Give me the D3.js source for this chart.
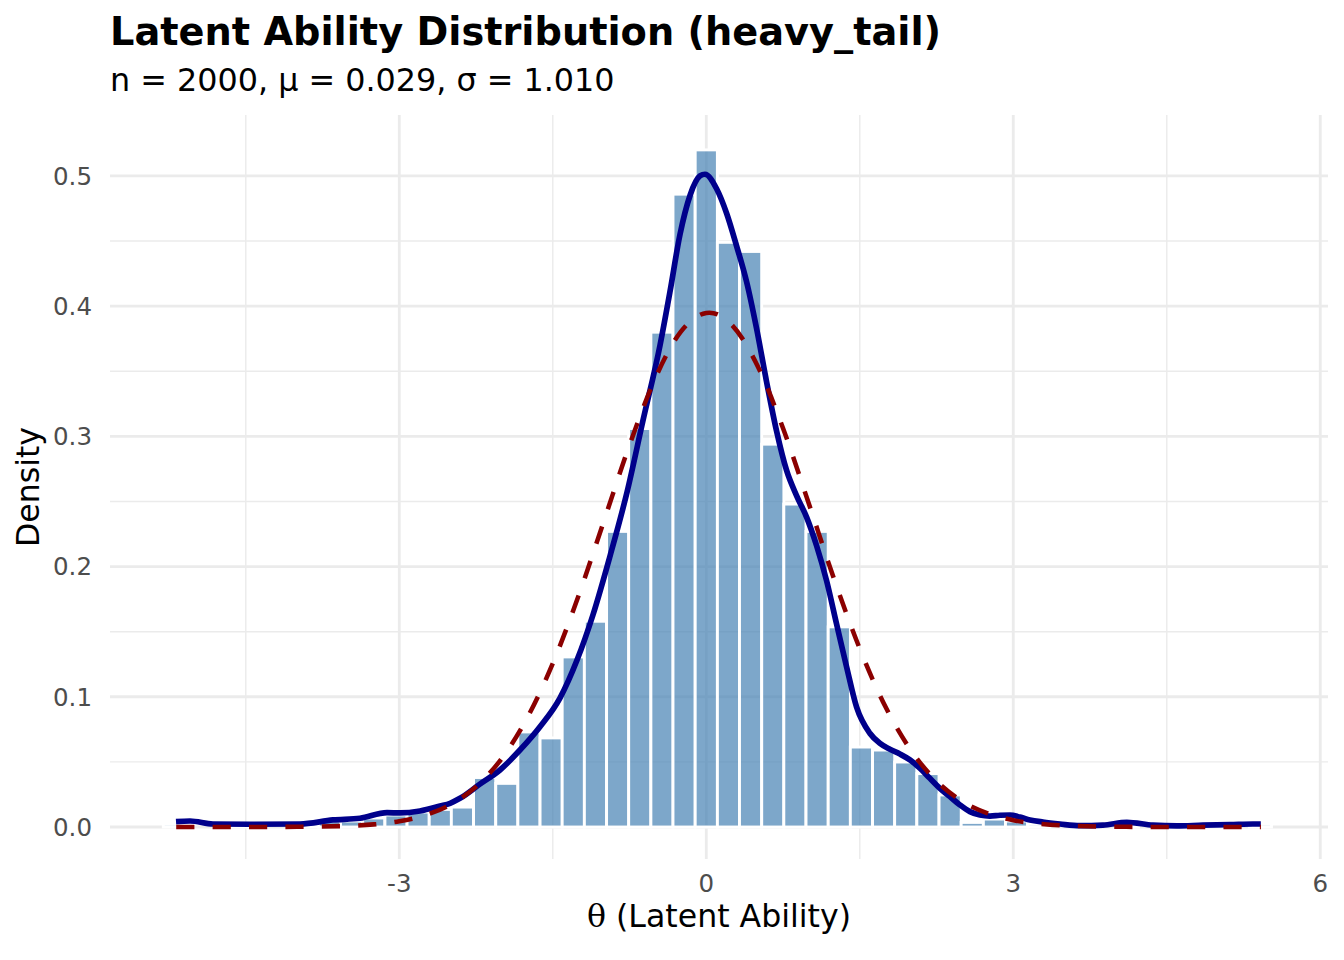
<!DOCTYPE html>
<html><head><meta charset="utf-8">
<script src="https://cdn.jsdelivr.net/npm/d3@7"></script>
<style>body{margin:0;background:#fff} svg{display:block}</style>
</head><body><svg id="c" width="1344" height="960"></svg>
<script>
// ---- data ----
const binWidth = 0.2166;
const binCenters = [-5.198,-4.982,-4.765,-4.549,-4.332,-4.115,-3.899,-3.682,-3.466,-3.249,
  -3.032,-2.816,-2.599,-2.383,-2.166,-1.949,-1.733,-1.516,-1.300,-1.083,
  -0.866,-0.650,-0.433,-0.217,0.000,0.217,0.433,0.650,0.866,1.083,
  1.300,1.516,1.733,1.949,2.166,2.383,2.599,2.816,3.032,3.249,
  3.466,3.682,3.899,4.115,4.332,4.549,4.765,4.982,5.198,5.415];
const binDensity = [0.0023,0,0,0.0023,0,0,0.0023,0.0046,0.0046,0.0069,
  0.0092,0.0115,0.0135,0.0153,0.038,0.0335,0.073,0.0684,0.1306,0.158,
  0.227,0.306,0.380,0.486,0.520,0.449,0.442,0.294,0.248,0.227,
  0.1537,0.0614,0.0591,0.0499,0.041,0.0246,0.0035,0.0061,0.0046,0.0023,
  0,0,0,0.0023,0,0,0,0.0023,0,0.0023];
const kdeX = [-5.182,-5.045,-4.821,-4.459,-3.971,-3.648,-3.384,-3.120,-2.993,-2.798,-2.602,-2.504,-2.407,
  -2.211,-2.016,-1.821,-1.625,-1.430,-1.264,-1.107,-0.941,-0.775,-0.619,-0.452,-0.355,-0.257,-0.159,
  -0.062,-0.013,0.102,0.200,0.295,0.393,0.491,0.589,0.687,0.784,0.882,0.980,1.078,1.176,1.273,1.371,
  1.469,1.598,1.696,1.794,1.892,1.990,2.087,2.185,2.283,2.381,2.479,2.576,2.674,2.772,2.870,2.968,
  3.065,3.163,3.290,3.456,3.651,3.876,4.110,4.364,4.599,4.853,5.117,5.342,5.419];
const kdeY = [0.0041,0.0046,0.0023,0.0021,0.0023,0.0054,0.0067,0.0110,0.0108,0.0123,0.0161,0.0182,0.0220,
  0.0330,0.0438,0.0591,0.0770,0.0990,0.1280,0.1630,0.2080,0.2570,0.3120,0.3700,0.4110,0.4550,0.4850,
  0.5000,0.5013,0.4900,0.4710,0.4465,0.4190,0.3830,0.3420,0.3040,0.2740,0.2545,0.2380,0.2160,0.1890,0.1560,0.1230,
  0.0920,0.0720,0.0643,0.0597,0.0560,0.0515,0.0451,0.0374,0.0297,0.0233,0.0169,0.0118,0.0092,0.0084,0.0090,0.0092,
  0.0076,0.0054,0.0038,0.0023,0.0010,0.0014,0.0036,0.0014,0.0008,0.0014,0.0018,0.0023,0.0023];
const normX = [-5.18,-4.5,-4,-3.5,-3.25,-3,-2.75,-2.5,-2.25,-2,-1.75,-1.5,-1.25,-1,-0.75,-0.5,-0.25,0,0.03,
  0.25,0.5,0.75,1,1.25,1.5,1.75,2,2.25,2.5,2.75,3,3.25,3.5,4,4.5,5.42];
const normY = [0,0.00002,0.00014,0.0009,0.0020,0.0044,0.0090,0.0172,0.0310,0.0525,0.0838,0.1256,0.1772,0.2351,0.2934,0.3444,0.3802,0.3948,0.3950,
  0.3856,0.3543,0.3062,0.2488,0.1902,0.1369,0.0925,0.0589,0.0352,0.0198,0.0105,0.0052,0.0025,0.0011,0.00017,0.00002,0];
const xTicks = [-3,0,3,6];
const xTickLabels = ["-3","0","3","6"];
const xMinor = [-4.5,-1.5,1.5,4.5];
const yTicks = [0,0.1,0.2,0.3,0.4,0.5];
const yTickLabels = ["0.0","0.1","0.2","0.3","0.4","0.5"];
const yMinor = [0.05,0.15,0.25,0.35,0.45];
const titleText = "Latent Ability Distribution (heavy_tail)";
const subtitleText = "n = 2000, μ = 0.029, σ = 1.010";
const xTitleSymbol = "θ";
const xTitleText = " (Latent Ability)";
const yTitleText = "Density";

// ---- layout ----
const L = 110, R = 1328, T = 115, B = 859;
const FONT = "'DejaVu Sans', sans-serif";
const x = d3.scaleLinear().domain([-5.827, 6.0755]).range([L, R]);
const y = d3.scaleLinear().domain([-0.02458, 0.5468]).range([B, T]);
const svg = d3.select("#c");
svg.append("rect").attr("width",1344).attr("height",960).attr("fill","#fff");

const grid = svg.append("g");
grid.selectAll(".ymin").data(yMinor).join("line")
  .attr("x1",L).attr("x2",R).attr("y1",d=>y(d)).attr("y2",d=>y(d))
  .attr("stroke","#EBEBEB").attr("stroke-width",1.42);
grid.selectAll(".xmin").data(xMinor).join("line")
  .attr("y1",T).attr("y2",B).attr("x1",d=>x(d)).attr("x2",d=>x(d))
  .attr("stroke","#EBEBEB").attr("stroke-width",1.42);
grid.selectAll(".ymaj").data(yTicks).join("line")
  .attr("x1",L).attr("x2",R).attr("y1",d=>y(d)).attr("y2",d=>y(d))
  .attr("stroke","#EBEBEB").attr("stroke-width",2.84);
grid.selectAll(".xmaj").data(xTicks).join("line")
  .attr("y1",T).attr("y2",B).attr("x1",d=>x(d)).attr("x2",d=>x(d))
  .attr("stroke","#EBEBEB").attr("stroke-width",2.84);

// bars
const bars = binCenters.map((c,i)=>({c, d: binDensity[i]}));
svg.append("g").selectAll("rect").data(bars).join("rect")
  .attr("x", d=>x(d.c - binWidth/2))
  .attr("width", d=>x(d.c + binWidth/2) - x(d.c - binWidth/2))
  .attr("y", d=>y(d.d))
  .attr("height", d=>y(0)-y(d.d))
  .attr("fill","#4682B4").attr("fill-opacity",0.7)
  .attr("stroke","#fff").attr("stroke-width",2.9);

// KDE
const kde = kdeX.map((v,i)=>[v,kdeY[i]]);
svg.append("path").datum(kde)
  .attr("d", d3.line().x(d=>x(d[0])).y(d=>y(d[1])).curve(d3.curveMonotoneX))
  .attr("fill","none").attr("stroke","#00008B").attr("stroke-width",5.7)
  .attr("stroke-linejoin","round");

// Normal
const norm = normX.map((v,i)=>[v,normY[i]]);
svg.append("path").datum(norm)
  .attr("d", d3.line().x(d=>x(d[0])).y(d=>y(d[1])).curve(d3.curveMonotoneX))
  .attr("fill","none").attr("stroke","#8B0000").attr("stroke-width",4.55)
  .attr("stroke-dasharray","18.2,18.2");

// axes labels
svg.append("g").selectAll("text").data(yTicks).join("text")
  .attr("x",92).attr("y",d=>y(d)+8.8).attr("text-anchor","end")
  .attr("font-family",FONT).attr("font-size",24.5).attr("fill","#4D4D4D")
  .text((d,i)=>yTickLabels[i]);
svg.append("g").selectAll("text").data(xTicks).join("text")
  .attr("x",d=>x(d)).attr("y",892).attr("text-anchor","middle")
  .attr("font-family",FONT).attr("font-size",24.5).attr("fill","#4D4D4D")
  .text((d,i)=>xTickLabels[i]);

// titles
svg.append("text").attr("x",L).attr("y",45).attr("font-family",FONT)
  .attr("font-size",38.3).attr("font-weight","bold").attr("fill","#000").text(titleText);
svg.append("text").attr("x",L).attr("y",91).attr("font-family",FONT)
  .attr("font-size",31.8).attr("fill","#000").text(subtitleText);
const xt = svg.append("text").attr("x",(L+R)/2).attr("y",927).attr("text-anchor","middle")
  .attr("font-family",FONT).attr("font-size",31.6).attr("fill","#000");
xt.append("tspan").attr("font-family","'DejaVu Serif', serif").text(xTitleSymbol);
xt.append("tspan").text(xTitleText);
svg.append("text").attr("transform",`translate(39,${(T+B)/2}) rotate(-90)`)
  .attr("text-anchor","middle").attr("font-family",FONT).attr("font-size",31.6)
  .attr("fill","#000").text(yTitleText);
</script></body></html>
